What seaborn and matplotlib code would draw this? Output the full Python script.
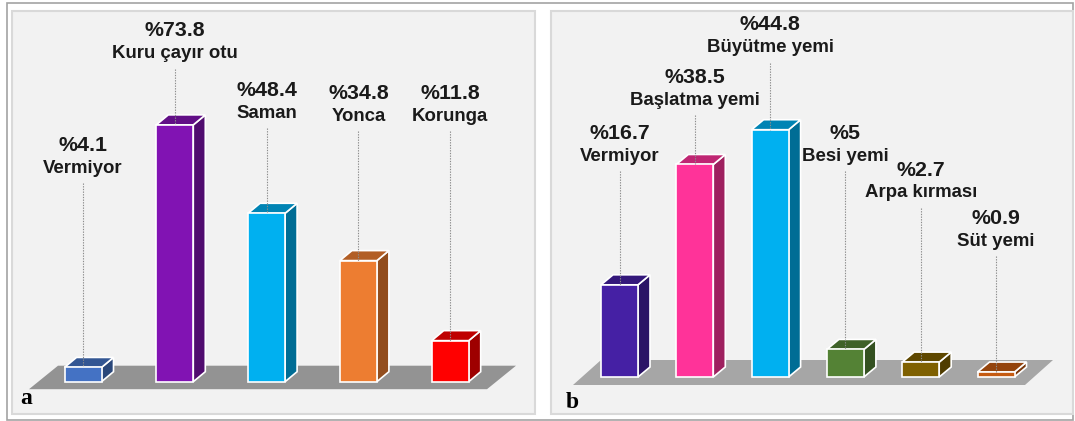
import matplotlib
matplotlib.use("Agg")
import matplotlib.pyplot as plt
from matplotlib.patches import Polygon, Rectangle
from matplotlib.colors import to_rgb
import seaborn as sns

# ---- data -------------------------------------------------------------
# (a) roughage given
cats_a = ["Vermiyor", "Kuru çayır otu", "Saman", "Yonca", "Korunga"]
vals_a = [4.1, 73.8, 48.4, 34.8, 11.8]
colors_a = ["#4472c4", "#8113b3", "#00b0f0", "#ed7d31", "#ff0000"]
label_h_a = [68.0, 100.8, 83.8, 82.9, 82.9]      # height of the % label (axis units)

# (b) concentrate feed given
cats_b = ["Vermiyor", "Başlatma yemi", "Büyütme yemi", "Besi yemi",
          "Arpa kırması", "Süt yemi"]
vals_b = [16.7, 38.5, 44.8, 5, 2.7, 0.9]
colors_b = ["#4520a4", "#ff3399", "#00b0f0", "#548235", "#7f6000", "#c55a11"]
label_h_b = [44.2, 54.3, 63.8, 44.2, 37.5, 28.8]

# ---- figure -----------------------------------------------------------
sns.set_theme(style="white")
plt.rcParams["font.family"] = ["Liberation Sans", "DejaVu Sans"]

W, H = 1075, 421
fig = plt.figure(figsize=(W / 100, H / 100), dpi=100)
fig.patch.set_facecolor("white")


def fig_rect(x0, y0, x1, y1, **kw):
    """Rectangle given in top-origin figure pixels."""
    r = Rectangle((x0 / W, 1 - y1 / H), (x1 - x0) / W, (y1 - y0) / H,
                  transform=fig.transFigure, **kw)
    fig.patches.append(r)


def shade(c, f):
    r, g, b = to_rgb(c)
    return (r * f, g * f, b * f)


# outer frame
fig_rect(7, 3, 1073, 420, facecolor="white", edgecolor="#a3a3a3", lw=1.2, zorder=-2)


def panel(box, cats, vals, colors, label_h, first_px, step_px, base_px, unit_px,
          bar_px, floor, floor_color, tag, tag_xy):
    x0, y0, x1, y1 = box
    fig_rect(x0, y0, x1, y1, facecolor="#f2f2f2", edgecolor="#d9d9d9", lw=1.5, zorder=-1)
    ax = fig.add_axes([x0 / W, 1 - y1 / H, (x1 - x0) / W, (y1 - y0) / H])
    ax.set_facecolor("none")

    sns.barplot(x=cats, y=vals, hue=cats, palette=colors, width=bar_px / step_px,
                saturation=1, edgecolor="white", linewidth=1.2, legend=False,
                ax=ax, zorder=3)
    fronts = list(ax.patches[:len(vals)])

    ax.set_xlim((x0 - first_px) / step_px, (x1 - first_px) / step_px)
    ax.set_ylim(-(y1 - base_px) / unit_px, (base_px - y0) / unit_px)
    ax.set_axis_off()

    px_x = 1 / step_px      # data units per horizontal pixel
    px_y = 1 / unit_px      # data units per vertical pixel
    ddx, ddy = 12 * px_x, 10 * px_y

    # floor slab
    fl, fr, below, above, shift = floor
    fx_l, fx_r = (fl - first_px) * px_x, (fr - first_px) * px_x
    fy_f, fy_b = -below * px_y, above * px_y
    sh = shift * px_x
    ax.add_patch(Polygon([(fx_l, fy_f), (fx_r, fy_f), (fx_r + sh, fy_b), (fx_l + sh, fy_b)],
                         closed=True, facecolor=floor_color, edgecolor="none", zorder=1))

    # depth faces of every bar
    for bar, col in zip(fronts, colors):
        bx, bw, bh = bar.get_x(), bar.get_width(), bar.get_height()
        top = Polygon([(bx, bh), (bx + bw, bh), (bx + bw + ddx, bh + ddy), (bx + ddx, bh + ddy)],
                      closed=True, facecolor=shade(col, 0.75), edgecolor="white", lw=1.2, zorder=2)
        side = Polygon([(bx + bw, 0), (bx + bw + ddx, ddy), (bx + bw + ddx, bh + ddy), (bx + bw, bh)],
                       closed=True, facecolor=shade(col, 0.62), edgecolor="white", lw=1.2, zorder=2)
        ax.add_patch(side)
        ax.add_patch(top)

    # value / category labels with dotted leaders
    for bar, cat, v, lh in zip(fronts, cats, vals, label_h):
        cx = bar.get_x() + bar.get_width() / 2
        ax.text(cx, lh, f"%{v:g}", ha="center", va="center", fontsize=15.4,
                fontweight="bold", color="#1a1a1a", zorder=5)
        ax.text(cx, lh - 23 * px_y, cat, ha="center", va="center", fontsize=13.4,
                fontweight="bold", color="#1a1a1a", zorder=5)
        ax.plot([cx, cx], [lh - 38 * px_y, bar.get_height()], ls=(0, (1.2, 1.2)),
                lw=0.8, color="#8c8c8c", zorder=4)

    fig.text(tag_xy[0] / W, 1 - tag_xy[1] / H, tag, family=["Liberation Serif", "DejaVu Serif"],
             fontweight="bold", fontsize=17, color="black", va="baseline", ha="left")
    return ax


panel((12, 11, 535, 414), cats_a, vals_a, colors_a, label_h_a,
      first_px=83, step_px=91.8, base_px=381.7, unit_px=3.48, bar_px=37,
      floor=(29, 487, 7.5, 16, 29), floor_color="#939393", tag="a", tag_xy=(20, 404))

panel((551, 11, 1073, 414), cats_b, vals_b, colors_b, label_h_b,
      first_px=619.5, step_px=75.3, base_px=377, unit_px=5.52, bar_px=37,
      floor=(573, 1025, 8, 17, 28), floor_color="#a6a6a6", tag="b", tag_xy=(566, 408))

fig.savefig("out.png", dpi=100)
